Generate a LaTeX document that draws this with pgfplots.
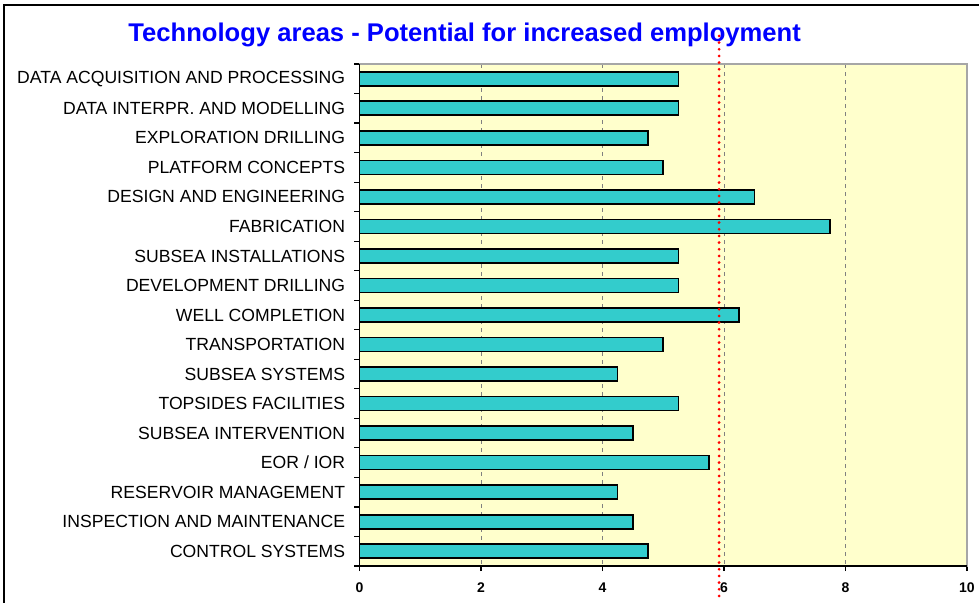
\documentclass[border=0pt]{standalone}
\usepackage{fontspec}
\setmainfont{Liberation Sans}
\usepackage{pgfplots}
\pgfplotsset{compat=1.18}
\definecolor{barfill}{HTML}{33CCCC}
\definecolor{plotbg}{HTML}{FFFFCC}
\definecolor{titleblue}{HTML}{0000FF}
\begin{document}
\begin{tikzpicture}
% canvas 979x603 px at 0.75pt per px
\path[use as bounding box] (0,0) rectangle (734.25pt,452.25pt);
\draw[line width=1.9pt] (3pt,0) -- (3pt,448.5pt) -- (734.25pt,448.5pt);
\node[font=\fontsize{19.2}{21}\selectfont\bfseries, text=titleblue]
  at (348.5pt,426pt) {Technology areas - Potential for increased employment};
\begin{axis}[
  at={(269.6pt,27.75pt)}, anchor=south west,
  scale only axis, width=455.6pt, height=376.5pt,
  xmin=0, xmax=10, ymin=-0.5, ymax=16.5, y dir=reverse,
  xtick={0,2,...,10},
  ytick={0,...,16},
  yticklabels={DATA ACQUISITION AND PROCESSING, DATA INTERPR. AND MODELLING,
    EXPLORATION DRILLING, PLATFORM CONCEPTS, DESIGN AND ENGINEERING,
    FABRICATION, SUBSEA INSTALLATIONS, DEVELOPMENT DRILLING, WELL COMPLETION,
    TRANSPORTATION, SUBSEA SYSTEMS, TOPSIDES FACILITIES, SUBSEA INTERVENTION,
    EOR / IOR, RESERVOIR MANAGEMENT, INSPECTION AND MAINTENANCE, CONTROL SYSTEMS},
  minor ytick={-0.5,0.5,...,16.5},
  major y tick style={draw=none},
  tick align=outside, tick pos=left,
  major tick length=3.75pt, minor tick length=3.75pt,
  every tick/.style={black, line width=0.9pt},
  xmajorgrids,
  major x grid style={gray, dashed, line width=0.6pt},
  axis background/.style={fill=plotbg},
  axis line style={gray!70, line width=1.2pt},
  /pgf/number format/assume math mode=true,
  yticklabel style={font=\fontsize{13.2}{14}\selectfont, xshift=-3.5pt},
  xticklabel style={font=\fontsize{10.5}{12}\selectfont\bfseries, yshift=-5pt},
  clip=false,
]
\addplot[xbar, bar width=10.5pt, bar shift=0pt, fill=barfill, draw=black, line width=1.2pt]
  coordinates {
  (5.25,0) (5.25,1) (4.75,2) (5.0,3) (6.5,4) (7.75,5) (5.25,6) (5.25,7)
  (6.25,8) (5.0,9) (4.25,10) (5.25,11) (4.5,12) (5.75,13) (4.25,14)
  (4.5,15) (4.75,16)
};
\addplot[red, line width=2.3pt, dash pattern=on 0pt off 5pt, line cap=round]
  coordinates {(5.92,-1.45) (5.92,17.55)};
\draw[black, line width=1.2pt] (axis description cs:0,1) -- (axis description cs:0,0)
  -- (axis description cs:1,0);
\end{axis}
\end{tikzpicture}
\end{document}
